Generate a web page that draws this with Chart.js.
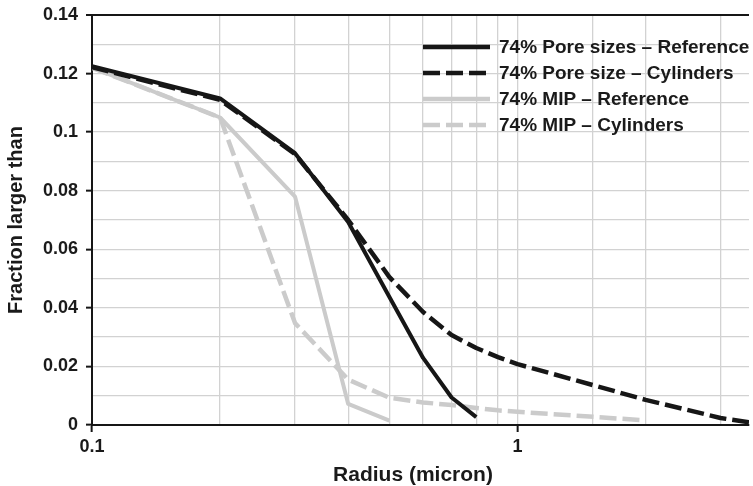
<!DOCTYPE html>
<html>
<head>
<meta charset="utf-8">
<script src="https://cdn.jsdelivr.net/npm/chart.js@4.4.1/dist/chart.umd.min.js"></script>
<style>
  html, body { margin: 0; padding: 0; background: #fff; }
  #wrap { width: 753px; height: 486px; position: relative; }
</style>
</head>
<body>
<div id="wrap"><canvas id="myChart"></canvas></div>
<script>
// radius (micron) and fraction larger than, per curve
const poreRefRadius = [0.1, 0.2, 0.3, 0.4, 0.5, 0.6, 0.7, 0.8];
const poreRefFrac   = [0.1225, 0.1115, 0.0928, 0.0693, 0.0437, 0.0229, 0.0094, 0.0027];

const poreCylRadius = [0.1, 0.2, 0.3, 0.4, 0.5, 0.6, 0.7, 0.8, 0.9, 1, 2, 3, 3.5];
const poreCylFrac   = [0.1222, 0.111, 0.0925, 0.07, 0.0505, 0.0386, 0.0307, 0.0263, 0.0232, 0.0208, 0.0086, 0.0024, 0.0009];

const mipRefRadius = [0.1, 0.2, 0.3, 0.4, 0.5];
const mipRefFrac   = [0.122, 0.105, 0.078, 0.0072, 0.0015];

const mipCylRadius = [0.1, 0.2, 0.3, 0.4, 0.5, 0.6, 0.7, 0.8, 0.9, 1, 2];
const mipCylFrac   = [0.122, 0.105, 0.0348, 0.0155, 0.0093, 0.0077, 0.0068, 0.0058, 0.005, 0.0045, 0.0016];

const seriesLabels = [
	"74% Pore sizes \u2013 Reference",
	"74% Pore size \u2013 Cylinders",
	"74% MIP \u2013 Reference",
	"74% MIP \u2013 Cylinders"
];
const xTitle = "Radius (micron)";
const yTitle = "Fraction larger than";

const FONT = "'Liberation Sans', Arial, Helvetica, sans-serif";
const BLACK = "#161616";
const GREY = "#cbcbcb";
const GRID = "#d2d2d2";

const toPoints = (xs, ys) => xs.map((x, i) => ({ x: x, y: ys[i] }));

const isDecade = v => Math.abs(Math.log10(v) - Math.round(Math.log10(v))) < 1e-6;

// legend + x title drawn on the canvas
const overlay = {
	id: "overlay",
	afterDraw(chart) {
		const ctx = chart.ctx;
		const area = chart.chartArea;
		ctx.save();
		ctx.font = "bold 19px " + FONT;
		ctx.textBaseline = "middle";
		ctx.fillStyle = "#1a1a1a";
		const x0 = area.left + 331;
		chart.data.datasets.forEach((ds, i) => {
			const y = area.top + 32 + i * 26;
			ctx.beginPath();
			ctx.lineWidth = 4.5;
			ctx.lineCap = "butt";
			ctx.strokeStyle = ds.borderColor;
			ctx.setLineDash(ds.borderDash || []);
			ctx.moveTo(x0, y);
			ctx.lineTo(x0 + 67, y);
			ctx.stroke();
			ctx.setLineDash([]);
			ctx.textAlign = "left";
			ctx.fillText(ds.label, x0 + 76, y + 1);
		});
		ctx.font = "bold 21px " + FONT;
		ctx.textAlign = "center";
		ctx.fillText(xTitle, area.left + 321, 475);
		ctx.restore();
	}
};

let ctx = document.getElementById("myChart").getContext("2d");

const myChart = new Chart(ctx, {
	type: "line",
	data: {
		datasets: [{
			label: seriesLabels[0],
			data: toPoints(poreRefRadius, poreRefFrac),
			borderColor: BLACK,
			borderWidth: 4
		}, {
			label: seriesLabels[1],
			data: toPoints(poreCylRadius, poreCylFrac),
			borderColor: BLACK,
			borderWidth: 4.5,
			borderDash: [17, 6]
		}, {
			label: seriesLabels[2],
			data: toPoints(mipRefRadius, mipRefFrac),
			borderColor: GREY,
			borderWidth: 4
		}, {
			label: seriesLabels[3],
			data: toPoints(mipCylRadius, mipCylFrac),
			borderColor: GREY,
			borderWidth: 4.5,
			borderDash: [17, 6]
		}]
	},
	options: {
		responsive: true,
		maintainAspectRatio: false,
		animation: false,
		layout: { padding: { top: 15, right: 0, left: 0, bottom: 0 } },
		elements: {
			point: { radius: 0 },
			line: { tension: 0, borderCapStyle: "butt", borderJoinStyle: "round" }
		},
		plugins: {
			legend: { display: false },
			tooltip: { enabled: false }
		},
		scales: {
			x: {
				type: "logarithmic",
				min: 0.1,
				max: 3.5,
				afterFit: scale => { scale.height = 61; },
				border: { display: true, color: BLACK, width: 2 },
				grid: {
					color: c => (c.tick && c.tick.value > 3.2 ? "rgba(0,0,0,0)" : GRID),
					lineWidth: 1.3,
					tickLength: 7,
					tickColor: c => (c.tick && isDecade(c.tick.value) ? BLACK : "rgba(0,0,0,0)"),
					tickWidth: 2
				},
				ticks: {
					autoSkip: false,
					maxRotation: 0,
					padding: 4,
					color: "#1a1a1a",
					font: { family: FONT, size: 18, weight: "bold" },
					callback: v => (isDecade(v) ? String(Number(v.toFixed(2))) : "")
				}
			},
			y: {
				min: 0,
				max: 0.14,
				afterFit: scale => { scale.width = 92; },
				border: { display: true, color: BLACK, width: 2 },
				grid: {
					color: c => (c.tick && Math.round(c.tick.value * 100) === 14 ? BLACK : GRID),
					lineWidth: c => (c.tick && Math.round(c.tick.value * 100) === 14 ? 2 : 1.3),
					tickLength: 6,
					tickColor: c => (c.tick && Math.round(c.tick.value * 100) % 2 === 0 ? BLACK : "rgba(0,0,0,0)"),
					tickWidth: 2
				},
				ticks: {
					stepSize: 0.01,
					autoSkip: false,
					padding: 8,
					color: "#1a1a1a",
					font: { family: FONT, size: 18, weight: "bold", lineHeight: 0.7 },
					callback: v => {
						const k = Math.round(v * 100);
						return k % 2 === 0 ? String(k / 100) : "";
					}
				},
				title: {
					display: true,
					text: yTitle,
					padding: { top: 4, bottom: 0 },
					color: "#1a1a1a",
					font: { family: FONT, size: 20, weight: "bold" }
				}
			}
		}
	},
	plugins: [overlay]
});
</script>
</body>
</html>
